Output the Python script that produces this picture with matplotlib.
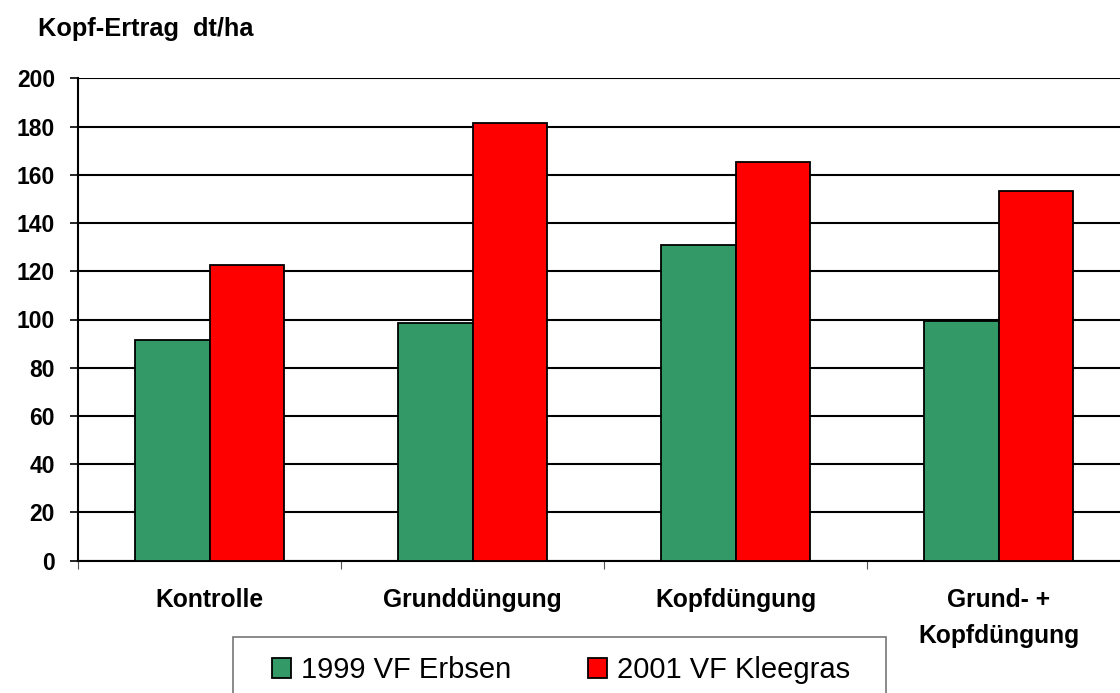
import matplotlib.pyplot as plt
import numpy as np
from matplotlib.patches import Rectangle

plt.rcParams['font.family'] = ['Liberation Sans', 'DejaVu Sans']

categories = ['Kontrolle', 'Grunddüngung', 'Kopfdüngung', 'Grund- +\nKopfdüngung']
series_names = ['1999 VF Erbsen', '2001 VF Kleegras']
erbsen_1999 = [91.5, 98.5, 131, 99.5]
kleegras_2001 = [122.6, 181.6, 165.4, 153.3]
yticks = [0, 20, 40, 60, 80, 100, 120, 140, 160, 180, 200]

fig = plt.figure(figsize=(11.2, 6.93), dpi=100)
# Achse reicht rechts über den Bildrand hinaus (wie im Original abgeschnitten)
ax = fig.add_axes([78 / 1120, 132.3 / 693, 1052 / 1120, 482.4 / 693])

x = np.arange(len(categories))
w = 0.285
ax.bar(x - w / 2, erbsen_1999, w, color='#339966', edgecolor='black', linewidth=1.3,
       label=series_names[0], zorder=3)
ax.bar(x + w / 2, kleegras_2001, w, color='#ff0000', edgecolor='black', linewidth=1.3,
       label=series_names[1], zorder=3)

ax.set_xlim(-0.5, len(categories) - 0.5)
ax.set_ylim(0, 200)
ax.set_yticks(yticks)
ax.set_yticklabels([str(v) for v in yticks], fontsize=16.5, fontweight='bold')
ax.yaxis.grid(True, color='black', linewidth=1.5, zorder=0)
ax.set_axisbelow(True)

# Kategorie-Trennstriche als Major-Ticks, Beschriftung als Minor-Ticks
ax.set_xticks(np.arange(len(categories) + 1) - 0.5)
ax.set_xticklabels([])
ax.set_xticks(x, minor=True)
ax.set_xticklabels(categories, minor=True, fontsize=17.7, fontweight='bold', linespacing=1.62)
ax.tick_params(axis='x', which='major', length=6, width=0.8, color='#555555')
ax.tick_params(axis='x', which='minor', length=0, pad=20)
ax.tick_params(axis='y', length=5.8, width=1.2, pad=10.8)

for s in ['top', 'right']:
    ax.spines[s].set_visible(False)
ax.spines['left'].set_linewidth(1.5)
ax.spines['bottom'].set_linewidth(1.5)

fig.text(38 / 1120, 1 - 29 / 693, 'Kopf-Ertrag  dt/ha', fontsize=18.3, fontweight='bold',
         va='center', ha='left')

# Legendenrahmen (unten abgeschnitten)
fig.patches.append(Rectangle((233 / 1120, -0.05), (886 - 233) / 1120, 0.05 + (693 - 637) / 693,
                             transform=fig.transFigure, fill=False, edgecolor='#777777',
                             linewidth=1.2))
fig.legend(loc='center left', bbox_to_anchor=(272 / 1120, 1 - 670 / 693), ncol=2,
           frameon=False, fontsize=21, handlelength=0.66, handleheight=0.66,
           handletextpad=0.35, columnspacing=2.6, borderpad=0, borderaxespad=0)

fig.savefig('out.png', dpi=100)
